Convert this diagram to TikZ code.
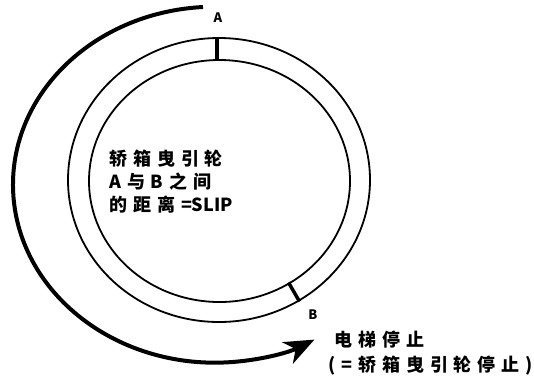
\documentclass[tikz,border=0pt]{standalone}
\usepackage{fontspec}
\usetikzlibrary{arrows.meta,shapes.geometric}
\newfontfamily\cjk{Noto Sans CJK SC}[LetterSpace=33]
\newfontfamily\cjkn{Noto Sans CJK SC}
\begin{document}
\begin{tikzpicture}[x=1pt,y=1pt,
  ring/.style={draw, ellipse, line width=1.8pt, inner sep=0pt, outer sep=0pt},
  tickmark/.style={line width=3.5pt},
  motion/.style={line width=4pt, -{Stealth[length=30pt,width=24pt,inset=9pt]}},
  lbl/.style={font=\cjkn\bfseries\fontsize{13}{13}\selectfont, inner sep=0pt},
  txt/.style={font=\cjk\bfseries\fontsize{18}{18}\selectfont, anchor=west, inner sep=0pt}]
\useasboundingbox (0,0) rectangle (534,-378);
% rings
\node[ring, minimum width=302pt, minimum height=284pt] (outer) at (219,-180) {};
\node[ring, minimum width=261pt, minimum height=242pt] (inner) at (219.5,-181) {};
% marks A and B
\coordinate (Ain) at (217,-61);
\coordinate (Aout) at (217,-37);
\coordinate (Bin) at (288.5,-282.5);
\coordinate (Bout) at (299.5,-301.5);
\draw[tickmark] (Ain) -- (Aout);
\draw[tickmark] (Bin) -- (Bout);
\node[lbl] (A) at (218,-18) {A};
\node[lbl] (B) at (313,-315) {B};
% big arc arrow
\coordinate (arcstart) at (203,-7);
\draw[motion] (arcstart) arc[start angle=93.4, end angle=299.5, x radius=202, y radius=178];
% texts
\node[txt] (t1) at (109,-159) {轿箱曳引轮};
\node[txt] (t2) at (109,-182) {A与B之间};
\node[txt] (t3) at (109,-205) {的距离={\cjkn SLIP}};
\node[txt] (s1) at (334,-340) {电梯停止};
\node[txt] (s2) at (328,-366) {(=轿箱曳引轮停止)};
\end{tikzpicture}
\end{document}
